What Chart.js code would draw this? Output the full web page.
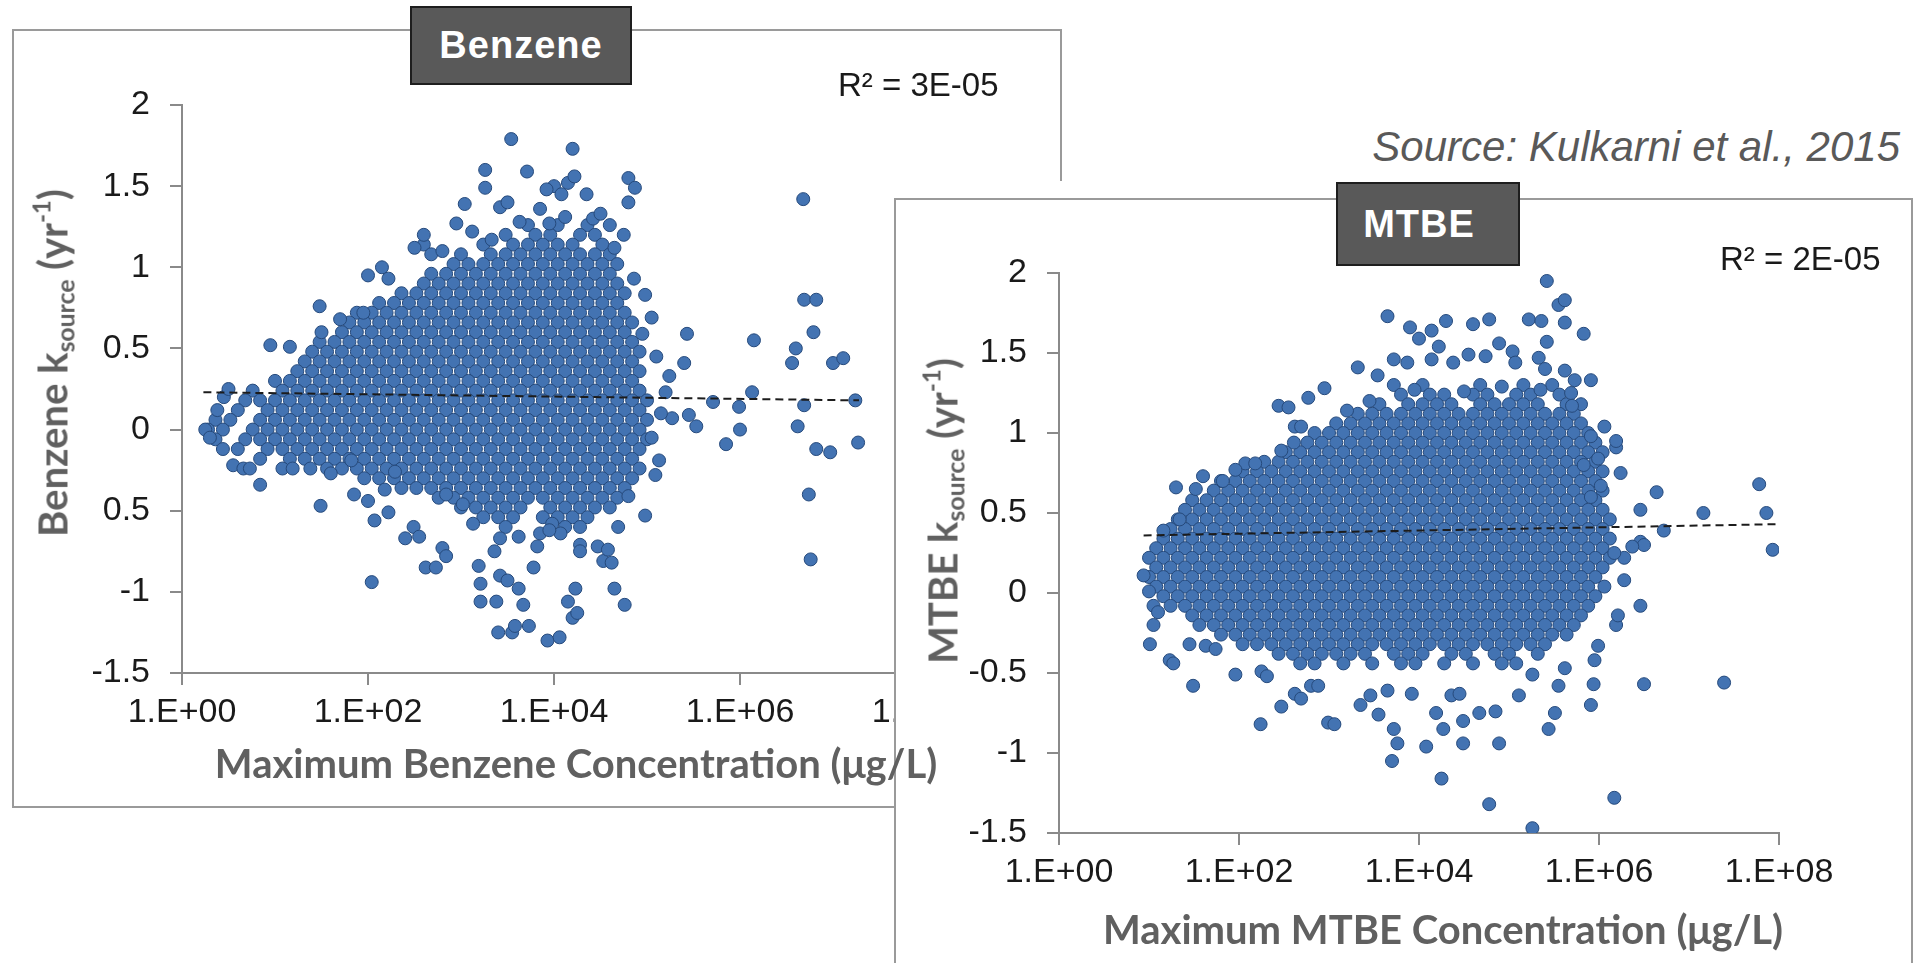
<!DOCTYPE html>
<html lang="en">
<head>
<meta charset="UTF-8">
<title>Benzene and MTBE k_source vs maximum concentration</title>
<script src="https://cdn.jsdelivr.net/npm/chart.js"></script>
<style>
  body { margin: 0; width: 1913px; height: 963px; overflow: hidden; position: relative; background: #fff;
         font-family: "Liberation Sans", Arial, sans-serif; }
  .frame { position: absolute; box-sizing: border-box; border: 2px solid #9a9a9a; background: #fff; }
  .cover { position: absolute; background: #fff; }
  canvas { position: absolute; }
  .tag { position: absolute; box-sizing: border-box; background: #595959; border: 2px solid #1e1e1e; color: #fff;
         font-weight: bold; font-size: 38px; letter-spacing: 1px; display: flex; align-items: center; justify-content: center; }
  .r2 { position: absolute; font-size: 33px; line-height: 1; color: #1a1a1a; white-space: nowrap; }
  .xtitle, .ytitle { position: absolute; font-family: Lato, "Open Sans", sans-serif; font-weight: bold; color: #606060;
         white-space: nowrap; line-height: 1; font-size: 40px; transform: translate(-50%, -50%); }
  .ytitle { transform: translate(-50%, -50%) rotate(-90deg); }
  .ytitle sub { font-size: 0.62em; vertical-align: -0.3em; }
  .ytitle sup { font-size: 0.6em; vertical-align: 0.7em; }
  .source { position: absolute; right: 13px; top: 126px; font-size: 42px; line-height: 1; font-style: italic; color: #595959; white-space: nowrap; }
</style>
</head>
<body>

<div class="frame" style="left:12px; top:29px; width:1050px; height:779px;"></div>
<canvas id="benzeneChart" width="1050" height="779" style="left:12px; top:29px;"></canvas>
<div class="tag" style="left:410px; top:6px; width:222px; height:79px;">Benzene</div>
<div class="r2" style="left:838px; top:68px;">R² = 3E-05</div>
<div class="ytitle" style="left:54px; top:363px;">Benzene k<sub>source</sub> (yr<sup>-1</sup>)</div>

<div class="cover" style="left:894px; top:181px; width:1019px; height:782px;"></div>
<div class="frame" style="left:894px; top:198px; width:1019px; height:800px;"></div>
<canvas id="mtbeChart" width="1019" height="765" style="left:894px; top:198px;"></canvas>
<div class="tag" style="left:1336px; top:182px; width:184px; height:84px; padding-right:18px;">MTBE</div>
<div class="r2" style="left:1720px; top:242px;">R² = 2E-05</div>
<div class="ytitle" style="left:944px; top:511px;">MTBE k<sub>source</sub> (yr<sup>-1</sup>)</div>
<div class="xtitle" style="left:1443px; top:929px;">Maximum MTBE Concentration (μg/L)</div>

<!-- the benzene axis title runs over the MTBE panel in the original -->
<div class="xtitle" style="left:576px; top:763px;">Maximum Benzene Concentration (μg/L)</div>

<div class="source">Source: Kulkarni et al., 2015</div>

<script>
// x values are written as log10 of the concentration
const xTickValues = [1, 1e2, 1e4, 1e6, 1e8];
const xTickLabels = ['1.E+00', '1.E+02', '1.E+04', '1.E+06', '1.E+08'];
const benzeneYLabels = ['-1.5', '-1', '0.5', '0', '0.5', '1', '1.5', '2'];
const mtbeYLabels = ['-1.5', '-1', '-0.5', '0', '0.5', '1', '1.5', '2'];

// dense part of the benzene cloud: [k, log10 conc, log10 conc, ...]
const benzeneRows = [
  [1.26, 3.72, 4.04, 4.36],
  [1.20, 3.48, 3.80, 3.96, 4.28, 4.44],
  [1.14, 2.60, 3.24, 3.56, 3.72, 3.88, 4.04, 4.20, 4.52],
  [1.08, 2.68, 3.00, 3.32, 3.48, 3.64, 3.80, 3.96, 4.12, 4.28, 4.44, 4.60],
  [1.02, 2.92, 3.08, 3.24, 3.40, 3.56, 3.72, 3.88, 4.04, 4.20, 4.36, 4.52, 4.68],
  [0.96, 2.68, 2.84, 3.00, 3.16, 3.32, 3.48, 3.64, 3.80, 3.96, 4.12, 4.28, 4.44, 4.60],
  [0.90, 2.60, 2.76, 2.92, 3.08, 3.24, 3.40, 3.56, 3.72, 3.88, 4.04, 4.20, 4.36, 4.52, 4.68],
  [0.84, 2.36, 2.52, 2.68, 2.84, 3.00, 3.16, 3.32, 3.48, 3.64, 3.80, 3.96, 4.12, 4.28, 4.44, 4.60, 4.76],
  [0.78, 2.12, 2.28, 2.44, 2.60, 2.76, 2.92, 3.08, 3.24, 3.40, 3.56, 3.72, 3.88, 4.04, 4.20, 4.36, 4.52, 4.68],
  [0.72, 1.88, 2.04, 2.20, 2.36, 2.52, 2.68, 2.84, 3.00, 3.16, 3.32, 3.48, 3.64, 3.80, 3.96, 4.12, 4.28, 4.44, 4.60, 4.76],
  [0.66, 1.80, 1.96, 2.12, 2.28, 2.44, 2.60, 2.76, 2.92, 3.08, 3.24, 3.40, 3.56, 3.72, 3.88, 4.04, 4.20, 4.36, 4.52, 4.68, 4.84],
  [0.60, 1.72, 1.88, 2.04, 2.20, 2.36, 2.52, 2.68, 2.84, 3.00, 3.16, 3.32, 3.48, 3.64, 3.80, 3.96, 4.12, 4.28, 4.44, 4.60, 4.76],
  [0.54, 1.48, 1.64, 1.80, 1.96, 2.12, 2.28, 2.44, 2.60, 2.76, 2.92, 3.08, 3.24, 3.40, 3.56, 3.72, 3.88, 4.04, 4.20, 4.36, 4.52, 4.68, 4.84],
  [0.48, 1.40, 1.56, 1.72, 1.88, 2.04, 2.20, 2.36, 2.52, 2.68, 2.84, 3.00, 3.16, 3.32, 3.48, 3.64, 3.80, 3.96, 4.12, 4.28, 4.44, 4.60, 4.76, 4.92],
  [0.42, 1.32, 1.48, 1.64, 1.80, 1.96, 2.12, 2.28, 2.44, 2.60, 2.76, 2.92, 3.08, 3.24, 3.40, 3.56, 3.72, 3.88, 4.04, 4.20, 4.36, 4.52, 4.68, 4.84],
  [0.36, 1.24, 1.40, 1.56, 1.72, 1.88, 2.04, 2.20, 2.36, 2.52, 2.68, 2.84, 3.00, 3.16, 3.32, 3.48, 3.64, 3.80, 3.96, 4.12, 4.28, 4.44, 4.60, 4.76, 4.92],
  [0.30, 1.00, 1.16, 1.32, 1.48, 1.64, 1.80, 1.96, 2.12, 2.28, 2.44, 2.60, 2.76, 2.92, 3.08, 3.24, 3.40, 3.56, 3.72, 3.88, 4.04, 4.20, 4.36, 4.52, 4.68, 4.84],
  [0.24, 0.76, 1.08, 1.24, 1.40, 1.56, 1.72, 1.88, 2.04, 2.20, 2.36, 2.52, 2.68, 2.84, 3.00, 3.16, 3.32, 3.48, 3.64, 3.80, 3.96, 4.12, 4.28, 4.44, 4.60, 4.76, 4.92],
  [0.18, 0.68, 0.84, 1.00, 1.16, 1.32, 1.48, 1.64, 1.80, 1.96, 2.12, 2.28, 2.44, 2.60, 2.76, 2.92, 3.08, 3.24, 3.40, 3.56, 3.72, 3.88, 4.04, 4.20, 4.36, 4.52, 4.68, 4.84, 5.00],
  [0.12, 0.60, 0.92, 1.08, 1.24, 1.40, 1.56, 1.72, 1.88, 2.04, 2.20, 2.36, 2.52, 2.68, 2.84, 3.00, 3.16, 3.32, 3.48, 3.64, 3.80, 3.96, 4.12, 4.28, 4.44, 4.60, 4.76, 4.92],
  [0.06, 0.36, 0.52, 0.84, 1.00, 1.16, 1.32, 1.48, 1.64, 1.80, 1.96, 2.12, 2.28, 2.44, 2.60, 2.76, 2.92, 3.08, 3.24, 3.40, 3.56, 3.72, 3.88, 4.04, 4.20, 4.36, 4.52, 4.68, 4.84, 5.00],
  [0.00, 0.28, 0.44, 0.76, 0.92, 1.08, 1.24, 1.40, 1.56, 1.72, 1.88, 2.04, 2.20, 2.36, 2.52, 2.68, 2.84, 3.00, 3.16, 3.32, 3.48, 3.64, 3.80, 3.96, 4.12, 4.28, 4.44, 4.60, 4.76, 4.92],
  [-0.06, 0.36, 0.68, 0.84, 1.00, 1.16, 1.32, 1.48, 1.64, 1.80, 1.96, 2.12, 2.28, 2.44, 2.60, 2.76, 2.92, 3.08, 3.24, 3.40, 3.56, 3.72, 3.88, 4.04, 4.20, 4.36, 4.52, 4.68, 4.84, 5.00],
  [-0.12, 0.44, 0.60, 0.92, 1.08, 1.24, 1.40, 1.56, 1.72, 1.88, 2.04, 2.20, 2.36, 2.52, 2.68, 2.84, 3.00, 3.16, 3.32, 3.48, 3.64, 3.80, 3.96, 4.12, 4.28, 4.44, 4.60, 4.76, 4.92],
  [-0.18, 0.84, 1.16, 1.32, 1.48, 1.64, 1.80, 1.96, 2.12, 2.28, 2.44, 2.60, 2.76, 2.92, 3.08, 3.24, 3.40, 3.56, 3.72, 3.88, 4.04, 4.20, 4.36, 4.52, 4.68, 4.84],
  [-0.24, 1.08, 1.56, 1.72, 1.88, 2.04, 2.20, 2.36, 2.52, 2.68, 2.84, 3.00, 3.16, 3.32, 3.48, 3.64, 3.80, 3.96, 4.12, 4.28, 4.44, 4.60, 4.76, 4.92],
  [-0.30, 1.96, 2.12, 2.28, 2.44, 2.60, 2.76, 2.92, 3.08, 3.24, 3.40, 3.56, 3.72, 3.88, 4.04, 4.20, 4.36, 4.52, 4.68, 4.84],
  [-0.36, 2.36, 2.52, 2.68, 2.84, 3.00, 3.16, 3.32, 3.48, 3.64, 3.80, 3.96, 4.12, 4.28, 4.44, 4.60, 4.76],
  [-0.42, 2.76, 2.92, 3.08, 3.24, 3.40, 3.56, 3.72, 3.88, 4.04, 4.20, 4.36, 4.52, 4.68],
  [-0.48, 3.00, 3.16, 3.32, 3.48, 3.64, 3.96, 4.12, 4.28, 4.44, 4.60],
  [-0.54, 3.24, 3.40, 3.56, 3.88, 4.04, 4.20, 4.36],
  [-0.60, 3.48, 4.12, 4.28]
];

// scattered benzene points: [log10 conc, k]
const benzeneSingles = [
  [3.54, 1.79], [4.20, 1.73], [3.26, 1.60], [3.26, 1.49], [3.71, 1.59], [3.04, 1.39], [4.80, 1.55], [4.87, 1.49],
  [4.80, 1.40], [4.00, 1.50], [4.15, 1.52], [4.22, 1.56], [3.42, 1.37], [3.50, 1.40], [3.85, 1.36], [4.35, 1.45],
  [4.42, 1.30], [4.60, 1.26], [2.60, 1.20], [2.95, 1.27], [3.12, 1.22], [3.92, 1.48], [4.08, 1.45], [2.80, 1.10],
  [4.75, 1.20], [2.00, 0.95], [2.22, 0.93], [1.48, 0.76], [1.95, 0.72], [0.95, 0.52], [1.16, 0.51], [1.50, 0.60],
  [1.70, 0.68], [2.15, 1.00], [2.50, 1.12], [0.25, 0.00], [0.30, -0.05], [0.55, -0.22], [0.66, -0.24], [0.84, -0.34],
  [1.49, -0.47], [2.04, -0.94], [0.73, -0.24], [1.19, -0.24], [1.38, -0.24], [1.60, -0.27], [1.82, -0.19], [1.85, -0.40],
  [2.00, -0.44], [2.07, -0.56], [2.22, -0.51], [2.18, -0.37], [2.29, -0.26], [2.40, -0.67], [2.49, -0.60], [2.55, -0.66],
  [2.62, -0.85], [2.73, -0.85], [2.80, -0.73], [2.84, -0.78], [2.84, -0.40], [3.02, -0.46], [3.13, -0.58], [0.45, 0.20],
  [0.50, 0.25], [0.38, 0.12], [3.93, -1.30], [4.06, -1.28], [3.40, -1.25], [3.55, -1.25], [3.58, -1.21], [3.73, -1.21],
  [3.67, -1.08], [3.62, -0.98], [3.42, -0.90], [3.50, -0.93], [3.19, -0.84], [3.21, -0.95], [3.38, -1.06], [3.21, -1.06],
  [4.20, -1.16], [4.25, -1.13], [4.15, -1.06], [4.23, -0.98], [4.28, -0.71], [4.28, -0.75], [4.47, -0.72], [4.53, -0.81],
  [3.85, -0.64], [3.82, -0.72], [3.78, -0.85], [4.07, -0.64], [3.98, -0.58], [3.62, -0.66], [3.42, -0.67], [3.36, -0.75],
  [4.58, -0.74], [4.62, -0.82], [4.65, -0.98], [4.76, -1.08], [4.69, -0.60], [4.80, -0.41], [4.98, -0.53], [3.95, -0.62],
  [4.86, 0.93], [4.98, 0.83], [5.05, 0.69], [4.95, 0.59], [5.43, 0.59], [5.40, 0.41], [5.24, 0.33], [5.20, 0.23],
  [6.15, 0.55], [6.13, 0.23], [5.71, 0.17], [5.99, 0.14], [6.00, 0.00], [5.85, -0.09], [5.53, 0.02], [5.45, 0.09],
  [5.27, 0.07], [5.13, -0.19], [5.09, -0.28], [6.68, 1.42], [6.56, 0.41], [6.60, 0.50], [6.69, 0.80], [6.82, 0.80],
  [6.79, 0.60], [7.00, 0.41], [7.11, 0.44], [6.69, 0.15], [7.24, 0.18], [6.62, 0.02], [6.82, -0.12], [6.97, -0.14],
  [7.27, -0.08], [6.74, -0.40], [6.76, -0.80], [5.10, 0.45], [5.15, 0.10], [5.05, -0.05],
  [3.63, 1.28], [3.95, 1.27], [4.12, 1.31], [4.50, 1.33], [3.33, 1.17], [4.65, 1.12]
];

// dense part of the MTBE cloud: [k, log10 conc, log10 conc, ...]
const mtbeRows = [
  [1.30, 3.72, 4.04, 4.68, 5.16, 5.48],
  [1.24, 3.80, 4.12, 4.28, 4.60, 4.76, 5.08, 5.24, 5.56],
  [1.18, 3.56, 3.88, 4.04, 4.20, 4.36, 4.68, 4.84, 5.00, 5.16, 5.32, 5.64, 5.80],
  [1.12, 3.32, 3.48, 3.64, 3.80, 3.96, 4.12, 4.28, 4.44, 4.60, 4.76, 4.92, 5.08, 5.24, 5.40, 5.56, 5.72],
  [1.06, 3.08, 3.24, 3.40, 3.56, 3.72, 3.88, 4.04, 4.20, 4.36, 4.52, 4.68, 4.84, 5.00, 5.16, 5.32, 5.48, 5.64, 5.80],
  [1.00, 2.84, 3.00, 3.16, 3.32, 3.48, 3.64, 3.80, 3.96, 4.12, 4.28, 4.44, 4.60, 4.76, 4.92, 5.08, 5.24, 5.40, 5.56, 5.72, 5.88],
  [0.94, 2.76, 2.92, 3.08, 3.24, 3.40, 3.56, 3.72, 3.88, 4.04, 4.20, 4.36, 4.52, 4.68, 4.84, 5.00, 5.16, 5.32, 5.48, 5.64, 5.80, 5.96],
  [0.88, 2.52, 2.68, 2.84, 3.00, 3.16, 3.32, 3.48, 3.64, 3.80, 3.96, 4.12, 4.28, 4.44, 4.60, 4.76, 4.92, 5.08, 5.24, 5.40, 5.56, 5.72, 5.88, 6.04],
  [0.82, 2.28, 2.44, 2.60, 2.76, 2.92, 3.08, 3.24, 3.40, 3.56, 3.72, 3.88, 4.04, 4.20, 4.36, 4.52, 4.68, 4.84, 5.00, 5.16, 5.32, 5.48, 5.64, 5.80, 5.96],
  [0.76, 2.04, 2.20, 2.36, 2.52, 2.68, 2.84, 3.00, 3.16, 3.32, 3.48, 3.64, 3.80, 3.96, 4.12, 4.28, 4.44, 4.60, 4.76, 4.92, 5.08, 5.24, 5.40, 5.56, 5.72, 5.88, 6.04],
  [0.70, 1.80, 1.96, 2.12, 2.28, 2.44, 2.60, 2.76, 2.92, 3.08, 3.24, 3.40, 3.56, 3.72, 3.88, 4.04, 4.20, 4.36, 4.52, 4.68, 4.84, 5.00, 5.16, 5.32, 5.48, 5.64, 5.80, 5.96],
  [0.64, 1.72, 1.88, 2.04, 2.20, 2.36, 2.52, 2.68, 2.84, 3.00, 3.16, 3.32, 3.48, 3.64, 3.80, 3.96, 4.12, 4.28, 4.44, 4.60, 4.76, 4.92, 5.08, 5.24, 5.40, 5.56, 5.72, 5.88, 6.04],
  [0.58, 1.48, 1.64, 1.80, 1.96, 2.12, 2.28, 2.44, 2.60, 2.76, 2.92, 3.08, 3.24, 3.40, 3.56, 3.72, 3.88, 4.04, 4.20, 4.36, 4.52, 4.68, 4.84, 5.00, 5.16, 5.32, 5.48, 5.64, 5.80, 5.96],
  [0.52, 1.40, 1.56, 1.72, 1.88, 2.04, 2.20, 2.36, 2.52, 2.68, 2.84, 3.00, 3.16, 3.32, 3.48, 3.64, 3.80, 3.96, 4.12, 4.28, 4.44, 4.60, 4.76, 4.92, 5.08, 5.24, 5.40, 5.56, 5.72, 5.88, 6.04],
  [0.46, 1.32, 1.48, 1.64, 1.80, 1.96, 2.12, 2.28, 2.44, 2.60, 2.76, 2.92, 3.08, 3.24, 3.40, 3.56, 3.72, 3.88, 4.04, 4.20, 4.36, 4.52, 4.68, 4.84, 5.00, 5.16, 5.32, 5.48, 5.64, 5.80, 5.96, 6.12],
  [0.40, 1.24, 1.40, 1.56, 1.72, 1.88, 2.04, 2.20, 2.36, 2.52, 2.68, 2.84, 3.00, 3.16, 3.32, 3.48, 3.64, 3.80, 3.96, 4.12, 4.28, 4.44, 4.60, 4.76, 4.92, 5.08, 5.24, 5.40, 5.56, 5.72, 5.88, 6.04],
  [0.34, 1.16, 1.32, 1.48, 1.64, 1.80, 1.96, 2.12, 2.28, 2.44, 2.60, 2.76, 2.92, 3.08, 3.24, 3.40, 3.56, 3.72, 3.88, 4.04, 4.20, 4.36, 4.52, 4.68, 4.84, 5.00, 5.16, 5.32, 5.48, 5.64, 5.80, 5.96, 6.12],
  [0.28, 1.08, 1.24, 1.40, 1.56, 1.72, 1.88, 2.04, 2.20, 2.36, 2.52, 2.68, 2.84, 3.00, 3.16, 3.32, 3.48, 3.64, 3.80, 3.96, 4.12, 4.28, 4.44, 4.60, 4.76, 4.92, 5.08, 5.24, 5.40, 5.56, 5.72, 5.88, 6.04],
  [0.22, 1.00, 1.16, 1.32, 1.48, 1.64, 1.80, 1.96, 2.12, 2.28, 2.44, 2.60, 2.76, 2.92, 3.08, 3.24, 3.40, 3.56, 3.72, 3.88, 4.04, 4.20, 4.36, 4.52, 4.68, 4.84, 5.00, 5.16, 5.32, 5.48, 5.64, 5.80, 5.96, 6.12],
  [0.16, 1.08, 1.24, 1.40, 1.56, 1.72, 1.88, 2.04, 2.20, 2.36, 2.52, 2.68, 2.84, 3.00, 3.16, 3.32, 3.48, 3.64, 3.80, 3.96, 4.12, 4.28, 4.44, 4.60, 4.76, 4.92, 5.08, 5.24, 5.40, 5.56, 5.72, 5.88, 6.04],
  [0.10, 1.00, 1.16, 1.32, 1.48, 1.64, 1.80, 1.96, 2.12, 2.28, 2.44, 2.60, 2.76, 2.92, 3.08, 3.24, 3.40, 3.56, 3.72, 3.88, 4.04, 4.20, 4.36, 4.52, 4.68, 4.84, 5.00, 5.16, 5.32, 5.48, 5.64, 5.80, 5.96],
  [0.04, 1.08, 1.24, 1.40, 1.56, 1.72, 1.88, 2.04, 2.20, 2.36, 2.52, 2.68, 2.84, 3.00, 3.16, 3.32, 3.48, 3.64, 3.80, 3.96, 4.12, 4.28, 4.44, 4.60, 4.76, 4.92, 5.08, 5.24, 5.40, 5.56, 5.72, 5.88],
  [-0.02, 1.16, 1.32, 1.48, 1.64, 1.80, 1.96, 2.12, 2.28, 2.44, 2.60, 2.76, 2.92, 3.08, 3.24, 3.40, 3.56, 3.72, 3.88, 4.04, 4.20, 4.36, 4.52, 4.68, 4.84, 5.00, 5.16, 5.32, 5.48, 5.64, 5.80, 5.96],
  [-0.08, 1.24, 1.40, 1.56, 1.72, 1.88, 2.04, 2.20, 2.36, 2.52, 2.68, 2.84, 3.00, 3.16, 3.32, 3.48, 3.64, 3.80, 3.96, 4.12, 4.28, 4.44, 4.60, 4.76, 4.92, 5.08, 5.24, 5.40, 5.56, 5.72, 5.88],
  [-0.14, 1.48, 1.64, 1.80, 1.96, 2.12, 2.28, 2.44, 2.60, 2.76, 2.92, 3.08, 3.24, 3.40, 3.56, 3.72, 3.88, 4.04, 4.20, 4.36, 4.52, 4.68, 4.84, 5.00, 5.16, 5.32, 5.48, 5.64, 5.80],
  [-0.20, 1.56, 1.72, 1.88, 2.04, 2.20, 2.36, 2.52, 2.68, 2.84, 3.00, 3.16, 3.32, 3.48, 3.64, 3.80, 3.96, 4.12, 4.28, 4.44, 4.60, 4.76, 4.92, 5.08, 5.24, 5.40, 5.56, 5.72],
  [-0.26, 1.80, 1.96, 2.12, 2.28, 2.44, 2.60, 2.76, 2.92, 3.08, 3.24, 3.40, 3.56, 3.72, 3.88, 4.04, 4.20, 4.36, 4.52, 4.68, 4.84, 5.00, 5.16, 5.32, 5.48, 5.64],
  [-0.32, 2.04, 2.20, 2.36, 2.52, 2.68, 2.84, 3.00, 3.16, 3.32, 3.48, 3.64, 3.80, 3.96, 4.12, 4.28, 4.44, 4.60, 4.76, 4.92, 5.08, 5.24, 5.40],
  [-0.38, 2.44, 2.60, 2.76, 2.92, 3.08, 3.24, 3.40, 3.72, 3.88, 4.04, 4.36, 4.52, 4.84, 5.00, 5.32],
  [-0.44, 2.68, 2.84, 3.16, 3.48, 3.80, 3.96, 4.28, 4.60, 4.92, 5.08]
];

// scattered MTBE points: [log10 conc, k]
const mtbeSingles = [
  [5.42, 1.95], [5.55, 1.80], [5.62, 1.83], [5.62, 1.69], [5.42, 1.57], [5.22, 1.71], [5.36, 1.70], [5.83, 1.62],
  [3.65, 1.73], [3.90, 1.66], [4.00, 1.59], [4.14, 1.64], [4.30, 1.70], [4.60, 1.68], [4.78, 1.71], [4.89, 1.56],
  [5.04, 1.51], [5.07, 1.44], [4.22, 1.54], [5.33, 1.47], [5.40, 1.40], [5.62, 1.39], [5.91, 1.33], [5.73, 1.33],
  [5.69, 1.25], [3.32, 1.41], [3.54, 1.36], [3.72, 1.46], [3.87, 1.44], [4.14, 1.46], [4.38, 1.44], [4.55, 1.49],
  [4.74, 1.48], [2.95, 1.28], [2.77, 1.22], [2.44, 1.17], [2.55, 1.16], [2.62, 1.04], [2.69, 1.04], [2.47, 0.89],
  [2.61, 0.94], [2.07, 0.81], [2.18, 0.81], [1.82, 0.70], [1.60, 0.73], [1.96, 0.77], [1.52, 0.65], [1.30, 0.66],
  [1.34, 0.46], [1.16, 0.39], [0.94, 0.11], [1.00, 0.01], [1.05, -0.08], [1.01, -0.32], [1.23, -0.42], [1.27, -0.44],
  [1.49, -0.58], [1.45, -0.32], [1.63, -0.33], [1.74, -0.35], [1.96, -0.51], [1.05, -0.20], [1.10, -0.12],
  [2.24, -0.82], [2.25, -0.49], [2.31, -0.52], [2.47, -0.71], [2.62, -0.63], [2.69, -0.66], [2.80, -0.58], [2.88, -0.58],
  [2.99, -0.81], [3.06, -0.82], [3.35, -0.70], [3.46, -0.64], [3.55, -0.76], [3.65, -0.61], [3.72, -0.85], [3.76, -0.94],
  [3.70, -1.05], [3.92, -0.63], [4.08, -0.96], [4.19, -0.75], [4.25, -1.16], [4.27, -0.85], [4.36, -0.64], [4.45, -0.63],
  [4.49, -0.80], [4.49, -0.94], [4.67, -0.75], [4.85, -0.74], [4.89, -0.94], [4.78, -1.32], [5.11, -0.64], [5.26, -1.47],
  [5.26, -0.51], [5.44, -0.85], [5.51, -0.75], [5.55, -0.58], [5.62, -0.47], [5.91, -0.70], [5.94, -0.57], [5.95, -0.42],
  [5.99, -0.33], [6.17, -1.28], [6.19, -0.20], [6.21, -0.14], [6.50, -0.57], [6.46, -0.08], [7.39, -0.56], [6.06, 0.04],
  [6.28, 0.08], [6.28, 0.22], [6.17, 0.25], [6.46, 0.32], [6.50, 0.30], [6.37, 0.29], [6.72, 0.39], [6.46, 0.52],
  [6.64, 0.63], [7.16, 0.50], [7.78, 0.68], [7.86, 0.50], [7.93, 0.27], [6.24, 0.75], [6.19, 0.91], [6.19, 0.95],
  [6.06, 1.04], [5.91, 0.98], [5.83, 0.80], [5.99, 0.84], [5.91, 0.60], [6.02, 0.67],
  [3.95, 1.27], [4.50, 1.26], [4.92, 1.29], [5.35, 1.27], [3.45, 1.20], [5.70, 1.17], [3.20, 1.14]
];

// linear trend lines (start and end), [log10 conc, k]
const benzeneTrend = [[0.23, 0.23], [7.28, 0.18]];
const mtbeTrend = [[0.94, 0.36], [7.97, 0.43]];

function toPoints(rows, singles) {
  const pts = [];
  rows.forEach(r => {
    for (let i = 1; i < r.length; i++) pts.push({ x: Math.pow(10, r[i]), y: r[0] });
  });
  singles.forEach(p => pts.push({ x: Math.pow(10, p[0]), y: p[1] }));
  return pts;
}

function trendPoints(t) {
  return t.map(p => ({ x: Math.pow(10, p[0]), y: p[1] }));
}

const tickFont = { family: '"Liberation Sans", Arial, sans-serif', size: 34 };
const axisGrey = '#8a8a8a';

function makeChart(id, rows, singles, trend, yLabels, box) {
  const ctx = document.getElementById(id).getContext('2d');
  return new Chart(ctx, {
    type: 'scatter',
    data: {
      datasets: [
        {
          data: trendPoints(trend),
          showLine: true,
          borderColor: '#1c1c1c',
          borderWidth: 2,
          borderDash: [8, 5],
          pointRadius: 0,
          fill: false
        },
        {
          data: toPoints(rows, singles),
          pointRadius: 6.5,
          backgroundColor: '#4373b2',
          borderColor: '#264a7c',
          borderWidth: 1
        }
      ]
    },
    options: {
      responsive: false,
      animation: false,
      devicePixelRatio: 1,
      events: [],
      layout: { padding: { top: box.top, right: box.right, left: 0, bottom: 0 } },
      plugins: { legend: { display: false }, tooltip: { enabled: false } },
      scales: {
        x: {
          type: 'logarithmic',
          min: 1,
          max: 1e8,
          afterBuildTicks: s => { s.ticks = xTickValues.map(v => ({ value: v })); },
          afterFit: s => { s.height = box.xHeight; },
          ticks: {
            autoSkip: false,
            maxRotation: 0,
            padding: 7,
            font: tickFont,
            color: '#1a1a1a',
            callback: (v, i) => xTickLabels[i]
          },
          grid: { drawOnChartArea: false, drawTicks: true, tickLength: 12, color: axisGrey, lineWidth: 2 },
          border: { color: axisGrey, width: 2 }
        },
        y: {
          min: -1.5,
          max: 2,
          afterFit: s => { s.width = box.yWidth; },
          ticks: {
            stepSize: 0.5,
            padding: 20,
            font: tickFont,
            color: '#1a1a1a',
            callback: (v, i) => yLabels[i]
          },
          grid: { drawOnChartArea: false, drawTicks: true, tickLength: 12, color: axisGrey, lineWidth: 2 },
          border: { color: axisGrey, width: 2 }
        }
      }
    }
  });
}

makeChart('benzeneChart', benzeneRows, benzeneSingles, benzeneTrend, benzeneYLabels,
  { top: 76, right: 136, yWidth: 170, xHeight: 135 });
makeChart('mtbeChart', mtbeRows, mtbeSingles, mtbeTrend, mtbeYLabels,
  { top: 75, right: 134, yWidth: 165, xHeight: 130 });
</script>
</body>
</html>
